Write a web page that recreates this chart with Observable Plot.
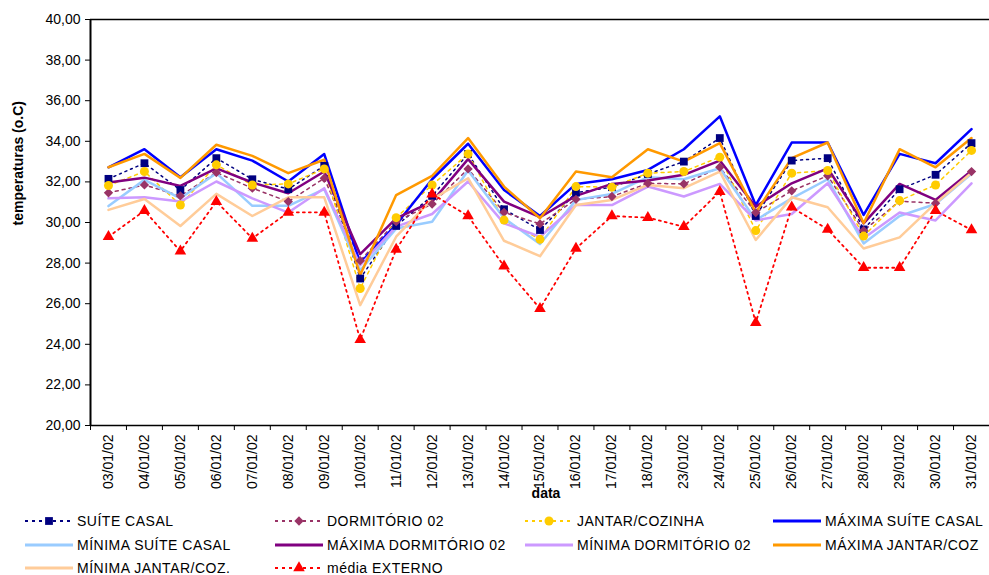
<!DOCTYPE html>
<html><head><meta charset="utf-8">
<script src="https://cdn.jsdelivr.net/npm/d3@7"></script>
<script src="https://cdn.jsdelivr.net/npm/@observablehq/plot@0.6"></script>
<style>
body{margin:0;background:#fff;font-family:"Liberation Sans",Arial,sans-serif;}
#wrap{width:989px;position:relative;}
#legend{position:relative;height:70px;width:989px;}
.li{position:absolute;display:flex;align-items:center;height:16px;line-height:16px;font-size:14px;letter-spacing:0.5px;color:#000;white-space:nowrap;}
.li svg{margin-right:4px;flex:none}
</style></head><body><div id="wrap"></div><div id="legend"></div>
<script>
const dates=["03/01/02","04/01/02","05/01/02","06/01/02","07/01/02","08/01/02","09/01/02","10/01/02","11/01/02","12/01/02","13/01/02","14/01/02","15/01/02","16/01/02","17/01/02","18/01/02","23/01/02","24/01/02","25/01/02","26/01/02","27/01/02","28/01/02","29/01/02","30/01/02","31/01/02"];
const yTicks=[20,22,24,26,28,30,32,34,36,38,40];

const suiteCasal=[32.15,32.92,31.6,33.17,32.13,31.64,32.79,27.24,29.83,31.31,33.38,30.65,29.63,31.47,31.74,32.39,33.0,34.16,30.32,33.05,33.17,29.66,31.64,32.35,33.91];
const dormitorio02=[31.46,31.85,31.31,32.46,31.69,31.03,32.18,28.12,30.04,30.91,32.64,30.5,29.93,31.14,31.28,31.93,31.9,32.72,30.49,31.56,32.3,29.6,31.05,30.95,32.51];
const jantarCozinha=[31.82,32.51,30.86,32.84,31.85,31.9,32.64,26.75,30.24,31.85,33.38,30.12,29.17,31.77,31.74,32.43,32.51,33.22,29.6,32.43,32.56,29.33,31.08,31.85,33.55];
const maxSuite=[32.72,33.61,32.23,33.61,33.05,32.02,33.37,28.0,29.9,32.13,33.88,31.6,30.32,31.9,32.13,32.59,33.61,35.23,30.85,33.94,33.94,30.37,33.38,32.92,34.6];
const minSuite=[30.81,32.1,31.19,32.43,30.82,30.82,31.64,27.65,29.7,30.04,32.56,30.21,28.94,31.11,31.41,32.23,32.13,32.67,30.12,31.19,32.13,28.97,30.32,30.91,32.4];
const maxDorm=[31.97,32.21,31.8,32.67,31.97,31.44,32.51,28.44,30.2,31.03,33.12,31.03,30.26,31.31,31.9,32.07,32.35,33.05,30.78,31.93,32.67,29.96,31.9,31.11,32.55];
const minDorm=[31.19,31.24,31.03,32.02,31.19,30.49,31.69,27.9,29.8,30.42,32.02,29.96,29.3,30.86,30.86,31.77,31.28,31.9,30.1,30.42,31.93,29.22,30.49,30.1,31.93];
const maxJantar=[32.72,33.38,32.2,33.83,33.28,32.43,33.09,27.41,31.35,32.3,34.16,31.77,30.21,32.51,32.23,33.61,33.0,33.91,30.5,33.17,33.94,29.96,33.61,32.72,34.16];
const minJantar=[30.62,31.16,29.83,31.41,30.32,31.24,31.24,25.93,29.3,31.15,32.18,29.1,28.34,30.86,31.11,31.85,31.69,32.51,29.14,31.24,30.75,28.72,29.27,30.95,32.45];
const mediaExterno=[29.3,30.58,28.59,31.03,29.22,30.5,30.5,24.23,28.67,31.4,30.32,27.85,25.76,28.72,30.32,30.24,29.79,31.52,25.07,30.75,29.66,27.77,27.77,30.58,29.63];

const series=[
 {name:"SUÍTE CASAL",values:suiteCasal,color:"#000080",width:1.5,dash:"2,4",symbol:"square",r:4.4},
 {name:"DORMITÓRIO 02",values:dormitorio02,color:"#993366",width:1.5,dash:"3,4",symbol:"diamond2",r:4.2},
 {name:"JANTAR/COZINHA",values:jantarCozinha,color:"#FFCC00",width:1.5,dash:"3,4",symbol:"circle",r:4.5},
 {name:"MÁXIMA SUÍTE CASAL",values:maxSuite,color:"#0000FF",width:2.5,dash:null,symbol:null},
 {name:"MÍNIMA SUÍTE CASAL",values:minSuite,color:"#99CCFF",width:2.5,dash:null,symbol:null},
 {name:"MÁXIMA DORMITÓRIO 02",values:maxDorm,color:"#800080",width:2.5,dash:null,symbol:null},
 {name:"MÍNIMA DORMITÓRIO 02",values:minDorm,color:"#CC99FF",width:2.5,dash:null,symbol:null},
 {name:"MÁXIMA JANTAR/COZ",values:maxJantar,color:"#FF9900",width:2.5,dash:null,symbol:null},
 {name:"MÍNIMA JANTAR/COZ.",values:minJantar,color:"#FFCC99",width:2.5,dash:null,symbol:null},
 {name:"média EXTERNO",values:mediaExterno,color:"#FF0000",width:1.8,dash:"2,4",symbol:"triangle",r:4.3}
];

const idx=d3.range(dates.length);
const fmt=d=>d.toFixed(2).replace(".",",");
const marks=[
  Plot.ruleY([yTicks[yTicks.length-1]],{stroke:"black",strokeWidth:1.5}),
  Plot.ruleY([yTicks[0]],{stroke:"black",strokeWidth:1.5}),
  Plot.ruleX([-0.5],{stroke:"black",strokeWidth:2})
];
for(const s of series){
  marks.push(Plot.line(s.values,{x:(d,i)=>i,y:d=>d,stroke:s.color,strokeWidth:s.width,strokeDasharray:s.dash||undefined}));
}
for(const s of series){
  if(s.symbol) marks.push(Plot.dot(s.values,{x:(d,i)=>i,y:d=>d,symbol:s.symbol,fill:s.color,r:s.r}));
}
marks.push(
  Plot.axisY(yTicks,{tickSize:5,tickPadding:5,tickFormat:fmt,label:null,fontSize:14}),
  Plot.axisX(d3.range(-0.5,dates.length,1),{tickSize:5,tickFormat:()=>"",label:null}),
  Plot.axisX(idx,{tickSize:0,tickPadding:9,tickRotate:-90,tickFormat:i=>dates[i],label:null,fontSize:14}),
  Plot.text(["data"],{text:d=>d,frameAnchor:"bottom",dy:72,dx:6,fontWeight:"bold",fontSize:14}),
  Plot.text(["temperaturas (o.C)"],{text:d=>d,frameAnchor:"left",dx:-72,dy:3,rotate:-90,fontWeight:"bold",fontSize:14})
);

const chart=Plot.plot({
  width:989,height:505,
  marginLeft:90,marginRight:0,marginTop:19,marginBottom:80,
  style:{fontFamily:"Liberation Sans, Arial, sans-serif",fontSize:"14px",color:"black",background:"white",overflow:"visible"},
  x:{type:"linear",domain:[-0.5,dates.length-0.5],axis:null},
  y:{domain:[20,40],axis:null},
  marks
});
document.getElementById("wrap").appendChild(chart);

// legend
const cols=[25,275,525,773], rows=[16,40,63];
const leg=document.getElementById("legend");
const ns="http://www.w3.org/2000/svg";
series.forEach((s,k)=>{
  const div=document.createElement("div");
  div.className="li";
  div.style.left=cols[k%4]+"px";
  div.style.top=(rows[Math.floor(k/4)]-8)+"px";
  const sv=document.createElementNS(ns,"svg");
  sv.setAttribute("width",48);sv.setAttribute("height",14);
  const ln=document.createElementNS(ns,"line");
  ln.setAttribute("x1",0);ln.setAttribute("x2",48);ln.setAttribute("y1",7);ln.setAttribute("y2",7);
  ln.setAttribute("stroke",s.color);ln.setAttribute("stroke-width",s.dash?2:3);
  if(s.dash) ln.setAttribute("stroke-dasharray","3,4");
  sv.appendChild(ln);
  if(s.symbol){
    const symMap={square:d3.symbolSquare,diamond2:d3.symbolDiamond2,circle:d3.symbolCircle,triangle:d3.symbolTriangle};
    const p=document.createElementNS(ns,"path");
    p.setAttribute("d",d3.symbol(symMap[s.symbol],Math.PI*s.r*s.r)());
    p.setAttribute("transform","translate(24,7)");
    p.setAttribute("fill",s.color);
    sv.appendChild(p);
  }
  div.appendChild(sv);
  const t=document.createElement("span");t.textContent=s.name;div.appendChild(t);
  leg.appendChild(div);
});
</script></body></html>
